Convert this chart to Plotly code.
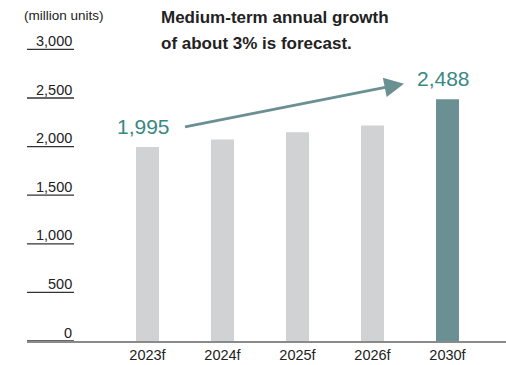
import plotly.graph_objects as go

# Smartphone shipments forecast (million units)
categories = ["2023f", "2024f", "2025f", "2026f", "2030f"]
values = [1995, 2074, 2148, 2217, 2488]
y_ticks = [0, 500, 1000, 1500, 2000, 2500, 3000]
y_tick_labels = ["0", "500", "1,000", "1,500", "2,000", "2,500", "3,000"]

W, H = 506, 365
LEFT, BOTTOM = 27, 24
PX_PER_UNIT = 0.0972            # vertical scale
CAT_STEP = 75                   # px between category centres
FIRST_CENTRE = 147.5            # px of first category centre

plot_w = W - LEFT
plot_h = H - BOTTOM
x_range = [(LEFT - FIRST_CENTRE) / CAT_STEP, (W - FIRST_CENTRE) / CAT_STEP]
y_range = [0, plot_h / PX_PER_UNIT]


def paper_x(px):
    return (px - LEFT) / plot_w


def paper_y(py):
    return 1 - py / plot_h


GREY = "#d1d2d4"
TEAL_BAR = "#6b9093"
TEAL_TEXT = "#3a8884"
FONT = "Liberation Sans, Arial, Helvetica, sans-serif"

xs = list(range(len(categories)))
bar_colors = [GREY] * (len(values) - 1) + [TEAL_BAR]

fig = go.Figure(
    go.Bar(
        x=xs,
        y=values,
        width=23 / CAT_STEP,
        marker=dict(color=bar_colors, line=dict(width=0)),
        hoverinfo="skip",
    )
)

shapes = []
annotations = []

# short rules under each y tick label
tick_x1 = paper_x(74)
for v, lab in zip(y_ticks, y_tick_labels):
    shapes.append(dict(type="line", xref="paper", yref="y", x0=0, x1=tick_x1,
                       y0=v, y1=v, line=dict(color="#333333", width=1.3)))
    annotations.append(dict(xref="paper", yref="y", x=tick_x1, y=v,
                            xanchor="right", yanchor="bottom", yshift=-1.5,
                            text=lab, showarrow=False,
                            font=dict(size=14.5, color="#222222", family=FONT)))

# unit label
annotations.append(dict(xref="paper", yref="paper", x=paper_x(22), y=paper_y(16),
                        xanchor="left", yanchor="middle", text="(million units)",
                        showarrow=False, font=dict(size=13.5, color="#222222", family=FONT)))

# headline
for i, line in enumerate(["Medium-term annual growth", "of about 3% is forecast."]):
    annotations.append(dict(xref="paper", yref="paper", x=paper_x(159), y=paper_y(18 + 25 * i),
                            xanchor="left", yanchor="middle", text=f"<b>{line}</b>",
                            showarrow=False, font=dict(size=17, color="#222222", family=FONT)))

# value labels on first and last bar
for idx in (0, len(values) - 1):
    annotations.append(dict(xref="x", yref="y", x=xs[idx], y=values[idx],
                            xanchor="center", yanchor="middle", xshift=-4, yshift=21,
                            text=f"{values[idx]:,}", showarrow=False,
                            font=dict(size=21, color=TEAL_TEXT, family=FONT)))

# growth arrow from first label towards last label
annotations.append(dict(xref="x", yref="y", x=xs[-1], y=values[-1],
                        xshift=-43.5, yshift=15.5, text="", showarrow=True,
                        ax=-220.5, ay=43.5, arrowhead=2, arrowsize=1.4,
                        arrowwidth=2.8, arrowcolor=TEAL_BAR, standoff=0))

fig.update_layout(
    width=W, height=H,
    margin=dict(l=LEFT, r=0, t=0, b=BOTTOM),
    paper_bgcolor="white", plot_bgcolor="white",
    showlegend=False,
    shapes=shapes,
    annotations=annotations,
    xaxis=dict(range=x_range, tickvals=xs, ticktext=categories, showgrid=False,
               zeroline=False, showline=True, linecolor="#8a8a8a", linewidth=1.6,
               ticks="", tickfont=dict(size=14.5, color="#222222", family=FONT),
               fixedrange=True),
    yaxis=dict(range=y_range, showgrid=False, zeroline=False, showticklabels=False,
               showline=False, ticks="", fixedrange=True),
)

fig.write_html("out.html", config={"displayModeBar": False})
